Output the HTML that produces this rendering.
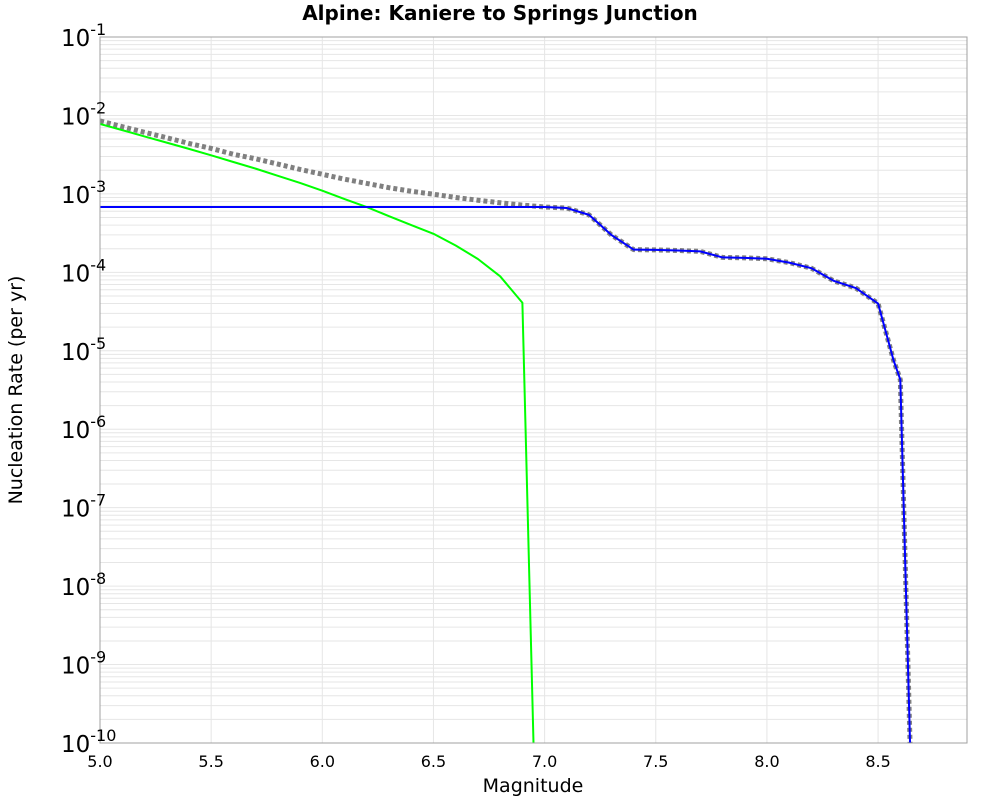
<!DOCTYPE html>
<html><head><meta charset="utf-8"><style>
body{margin:0;background:#fff;font-family:"Liberation Sans","DejaVu Sans",sans-serif}
</style></head><body>
<svg id="chart" width="1000" height="800" xmlns="http://www.w3.org/2000/svg">
<text x="500" y="20" text-anchor="middle" font-family="DejaVu Sans, sans-serif" font-weight="bold" font-size="20">Alpine: Kaniere to Springs Junction</text>
<g id="grid"></g>
<g id="series"></g>
<rect x="100" y="37" width="867" height="706" fill="none" stroke="#a0a0a0" stroke-width="1"/>
<g id="xticks"></g>
<g id="yticks"></g>
<text x="533" y="792" text-anchor="middle" font-family="DejaVu Sans, sans-serif" font-size="19">Magnitude</text>
<text transform="translate(22,390) rotate(-90)" text-anchor="middle" font-family="DejaVu Sans, sans-serif" font-size="19">Nucleation Rate (per yr)</text>
</svg>
<script>
const xTicks=[5.0,5.5,6.0,6.5,7.0,7.5,8.0,8.5];
const yDecades=[-1,-2,-3,-4,-5,-6,-7,-8,-9,-10];
const greenMags=[5.0,5.1,5.2,5.3,5.4,5.5,5.6,5.7,5.8,5.9,6.0,6.1,6.2,6.3,6.4,6.5,6.6,6.7,6.8,6.9,6.95];
const greenRates=[7.8e-3,6.5e-3,5.4e-3,4.5e-3,3.75e-3,3.1e-3,2.55e-3,2.1e-3,1.7e-3,1.38e-3,1.1e-3,8.6e-4,6.8e-4,5.2e-4,4.0e-4,3.1e-4,2.2e-4,1.48e-4,8.9e-5,4.1e-5,1e-10];
const blueMags=[5.0,7.0,7.1,7.2,7.3,7.4,7.5,7.6,7.7,7.8,7.9,8.0,8.1,8.2,8.3,8.4,8.5,8.57,8.6,8.65];
const blueRates=[6.8e-4,6.8e-4,6.6e-4,5.4e-4,3.0e-4,1.95e-4,1.93e-4,1.9e-4,1.85e-4,1.55e-4,1.53e-4,1.49e-4,1.33e-4,1.13e-4,7.8e-5,6.3e-5,4.0e-5,7.5e-6,4.3e-6,2.2e-11];
const totalMags=[5.0,5.1,5.2,5.3,5.4,5.5,5.6,5.7,5.8,5.9,6.0,6.1,6.2,6.3,6.4,6.5,6.6,6.7,6.8,6.9,7.0,7.1,7.2,7.3,7.4,7.5,7.6,7.7,7.8,7.9,8.0,8.1,8.2,8.3,8.4,8.5,8.57,8.6,8.65];
const totalRates=[8.5e-3,7.2e-3,6.1e-3,5.2e-3,4.4e-3,3.8e-3,3.2e-3,2.8e-3,2.4e-3,2.05e-3,1.78e-3,1.54e-3,1.36e-3,1.2e-3,1.08e-3,9.9e-4,9.0e-4,8.3e-4,7.7e-4,7.2e-4,6.8e-4,6.6e-4,5.4e-4,3.0e-4,1.95e-4,1.93e-4,1.9e-4,1.85e-4,1.55e-4,1.53e-4,1.49e-4,1.33e-4,1.13e-4,7.8e-5,6.3e-5,4.0e-5,7.5e-6,4.3e-6,2.2e-11];

const X0=100,X1=967,Y0=37,Y1=743,XMIN=5.0,XMAX=8.9,LMAX=-1,LMIN=-10;
const sx=m=>X0+(m-XMIN)/(XMAX-XMIN)*(X1-X0);
const sy=v=>Y0+(LMAX-Math.log10(v))/(LMAX-LMIN)*(Y1-Y0);
const NS="http://www.w3.org/2000/svg";
function mk(tag,parent){const e=document.createElementNS(NS,tag);parent.appendChild(e);return e;}
const grid=document.getElementById('grid');
for(let d=-10;d<-1;d++){for(let k=1;k<10;k++){const v=k*Math.pow(10,d);const y=sy(v);
 const l=mk('line',grid);l.setAttribute('x1',X0);l.setAttribute('x2',X1);l.setAttribute('y1',y);l.setAttribute('y2',y);
 l.setAttribute('stroke','#e6e6e6');l.setAttribute('stroke-width','1');
 
 }}
xTicks.forEach(t=>{const x=sx(t);const l=mk('line',grid);l.setAttribute('x1',x);l.setAttribute('x2',x);l.setAttribute('y1',Y0);l.setAttribute('y2',Y1);
 l.setAttribute('stroke','#e6e6e6');
 
 });
const xt=document.getElementById('xticks');
xTicks.forEach(t=>{const e=mk('text',xt);e.setAttribute('x',sx(t));e.setAttribute('y',767);e.setAttribute('text-anchor','middle');
 e.setAttribute('font-family','DejaVu Sans, sans-serif');e.setAttribute('font-size','16');e.textContent=t.toFixed(1);
 
 });
const yt=document.getElementById('yticks');
yDecades.forEach(d=>{const y=sy(Math.pow(10,d));const e=mk('text',yt);e.setAttribute('x',61);e.setAttribute('y',y+9);
 e.setAttribute('font-family','DejaVu Sans, sans-serif');e.setAttribute('font-size','23');
 const a=mk('tspan',e);a.textContent='10';const b=mk('tspan',e);b.setAttribute('dy','-11');b.setAttribute('font-size','16');b.textContent=String(d);
 
 });
const ser=document.getElementById('series');
const clip=mk('clipPath',ser);clip.setAttribute('id','pc');const cr=mk('rect',clip);cr.setAttribute('x',X0);cr.setAttribute('y',Y0);cr.setAttribute('width',X1-X0);cr.setAttribute('height',Y1-Y0);
function line(ms,vs,color,w,dash,name){const p=mk('polyline',ser);p.setAttribute('points',ms.map((m,i)=>sx(m)+','+sy(vs[i])).join(' '));
 p.setAttribute('fill','none');p.setAttribute('stroke',color);p.setAttribute('stroke-width',w);if(dash)p.setAttribute('stroke-dasharray',dash);
 p.setAttribute('clip-path','url(#pc)');p.setAttribute('stroke-linejoin','round');
 
 return p;}
line(totalMags,totalRates,'#808080',5,'4,3','total-rate-line');
line(greenMags,greenRates,'#00ff00',2,null,'green-rate-line');
line(blueMags,blueRates,'#0000ff',2,null,'blue-rate-line');
</script>
</body></html>
